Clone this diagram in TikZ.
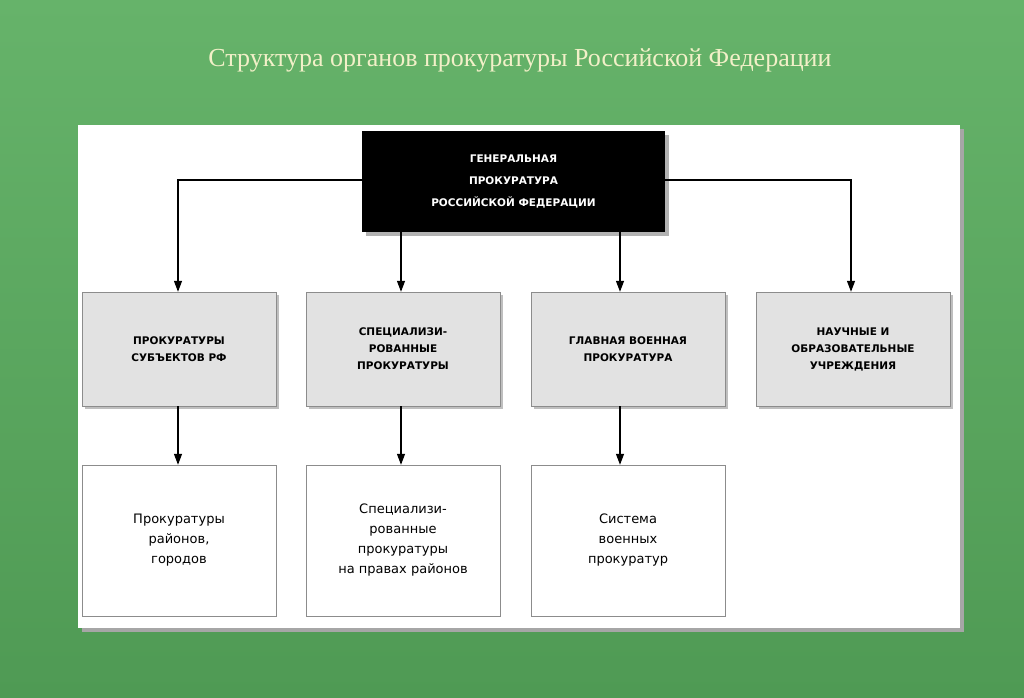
\documentclass[tikz,border=0pt]{standalone}
\usepackage{fontspec}
\setmainfont{Liberation Serif}
\newfontfamily\boxfont{DejaVu Sans}
\usetikzlibrary{arrows.meta}
\definecolor{bgtop}{HTML}{66B36A}
\definecolor{bgbot}{HTML}{4F9A54}
\definecolor{titlec}{HTML}{F2F0C8}
\definecolor{grayfill}{HTML}{E2E2E2}
\begin{document}
\begin{tikzpicture}[x=1pt,y=-1pt,
  gbox/.style={draw=black!45,fill=grayfill,minimum width=194pt,minimum height=114pt,align=center,font=\boxfont\bfseries\fontsize{10.5}{17}\selectfont,inner sep=0pt},
  wbox/.style={draw=black!45,fill=white,minimum width=194pt,minimum height=151pt,align=center,font=\boxfont\fontsize{13}{20}\selectfont,inner sep=0pt},
  arr/.style={-{Triangle[length=11pt,width=8pt]},line width=1.2pt}]
\useasboundingbox (0,0) rectangle (1024,697);
\shade[top color=bgtop,bottom color=bgbot] (0,0) rectangle (1024,697);
\fill[black!35] (82,129) rectangle (964,632);
\fill[white] (78,125) rectangle (960,628);
\node[font=\fontsize{26}{30}\selectfont,text=titlec] (title) at (520,60) {Структура органов прокуратуры Российской Федерации};
\fill[black!30] (366,135) rectangle (669,236);
\node[fill=black,minimum width=303pt,minimum height=101pt,align=center,text=white,font=\boxfont\bfseries\fontsize{10.5}{22}\selectfont,inner sep=0pt] (gen) at (513.5,181.5) {ГЕНЕРАЛЬНАЯ\\ПРОКУРАТУРА\\РОССИЙСКОЙ ФЕДЕРАЦИИ};
\foreach \x/\n in {179/a,403/b,628/c,853/d}{
  \fill[black!25] (\x-94,352) ++(0,-57) rectangle ++(194,114);}
\node[gbox] (a) at (179,349) {ПРОКУРАТУРЫ\\СУБЪЕКТОВ РФ};
\node[gbox] (b) at (403,349) {СПЕЦИАЛИЗИ-\\РОВАННЫЕ\\ПРОКУРАТУРЫ};
\node[gbox] (c) at (628,349) {ГЛАВНАЯ ВОЕННАЯ\\ПРОКУРАТУРА};
\node[gbox] (d) at (853,349) {НАУЧНЫЕ И\\ОБРАЗОВАТЕЛЬНЫЕ\\УЧРЕЖДЕНИЯ};
\node[wbox] (a2) at (179,540.5) {Прокуратуры\\районов,\\городов};
\node[wbox] (b2) at (403,540.5) {Специализи-\\рованные\\прокуратуры\\на правах районов};
\node[wbox] (c2) at (628,540.5) {Система\\военных\\прокуратур};
\coordinate (la) at (178,180);
\coordinate (ld) at (851,180);
\draw[arr] (gen.west|-la) -| (a.north-|la);
\draw[arr] (gen.east|-ld) -| (d.north-|ld);
\draw[arr] (gen.south-|401,0) -- (b.north-|401,0);
\draw[arr] (gen.south-|620,0) -- (c.north-|620,0);
\draw[arr] (a.south-|178,0) -- (a2.north-|178,0);
\draw[arr] (b.south-|401,0) -- (b2.north-|401,0);
\draw[arr] (c.south-|620,0) -- (c2.north-|620,0);
\end{tikzpicture}
\end{document}
